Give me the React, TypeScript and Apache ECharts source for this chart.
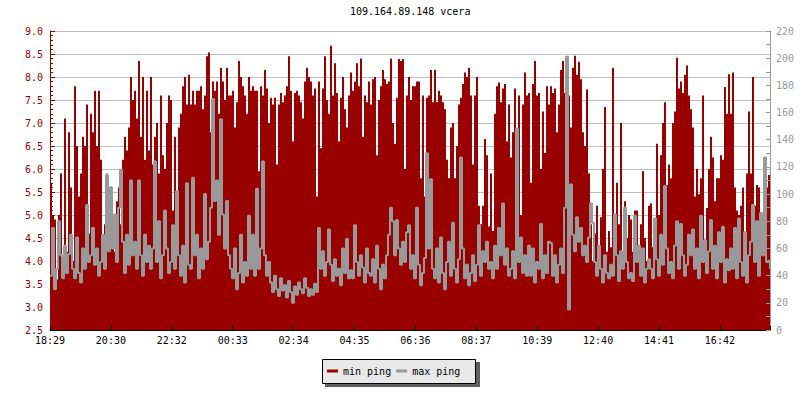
import { useEffect, useRef } from "react";
import * as echarts from "echarts";

const chartTitle = "109.164.89.148 vcera";
const xTickLabels = ["18:29", "20:30", "22:32", "00:33", "02:34", "04:35", "06:36", "08:37", "10:39", "12:40", "14:41", "16:42"];
// x axis is measured in sample slots (one sample every ~4 minutes)
const slotCount = 360;
const tickSlots = 30.45;
const seriesNames = ["min ping", "max ping"];

// min ping (ms, left axis)
const minPing = [
  5.7, 5.0, 4.9, 3.6, 5.0, 5.9, 3.8, 7.1, 4.2, 6.8,
  5.6, 4.0, 7.8, 6.5, 5.4, 5.9, 6.7, 6.5, 7.4, 4.6,
  7.2, 6.8, 7.7, 6.5, 7.7, 6.2, 4.3, 4.8, 5.9, 5.5,
  5.3, 4.6, 4.2, 5.3, 5.6, 4.8, 6.2, 6.7, 6.4, 6.9,
  8.0, 7.5, 7.7, 7.1, 8.35, 6.7, 8.0, 6.2, 7.7, 6.4,
  8.0, 6.1, 6.7, 7.0, 5.9, 7.6, 6.3, 6.0, 7.0, 7.6,
  7.5, 5.1, 6.7, 5.3, 6.9, 7.2, 7.8, 8.0, 7.4, 8.05,
  7.4, 7.7, 7.4, 7.7, 7.7, 7.8, 7.3, 7.6, 8.45, 8.53,
  6.8, 7.9, 7.7, 7.9, 7.2, 8.2, 7.9, 7.5, 8.2, 7.6,
  7.6, 7.7, 6.9, 7.45, 8.35, 8.0, 7.8, 7.6, 7.2, 8.0,
  7.7, 7.8, 7.7, 7.7, 5.95, 7.8, 7.6, 8.15, 7.75, 7.0,
  7.55, 7.4, 7.55, 6.1, 7.4, 7.65, 7.45, 7.6, 7.8, 8.45,
  7.7, 6.6, 7.65, 7.7, 7.6, 7.45, 7.1, 7.9, 8.2, 8.0,
  7.9, 7.6, 7.75, 5.4, 7.9, 6.45, 7.75, 8.45, 7.5, 7.2,
  8.68, 7.6, 8.3, 7.65, 6.6, 7.55, 8.0, 7.3, 6.9, 7.6,
  8.1, 7.7, 7.9, 8.3, 7.8, 8.4, 6.7, 7.6, 7.45, 7.9,
  7.4, 7.95, 8.0, 6.3, 7.5, 7.8, 8.15, 7.95, 7.85, 7.9,
  8.4, 7.0, 6.55, 7.55, 8.39, 8.35, 8.39, 6.0, 7.6, 8.0,
  7.5, 7.8, 7.8, 7.9, 7.9, 5.8, 7.6, 5.4, 7.55, 7.6,
  8.15, 7.45, 8.15, 7.45, 7.7, 7.6, 7.45, 7.3, 6.2, 5.8,
  6.9, 7.0, 5.8, 6.5, 7.4, 7.55, 7.85, 8.1, 8.0, 8.2,
  7.6, 6.1, 7.6, 8.0, 5.2, 4.8, 5.2, 6.65, 6.3, 4.75,
  5.9, 4.65, 7.2, 7.8, 7.88, 7.45, 7.75, 7.85, 6.6, 7.4,
  6.25, 6.8, 7.75, 4.9, 7.6, 5.0, 7.4, 8.1, 7.6, 7.65,
  5.7, 7.85, 8.35, 7.6, 7.65, 6.0, 7.25, 6.35, 7.8, 7.4,
  7.8, 7.65, 7.75, 6.8, 7.4, 8.15, 8.35, 7.65, 7.7, 7.6,
  6.9, 8.2, 8.46, 8.05, 8.33, 7.95, 6.8, 6.5, 7.73, 5.9,
  4.8, 4.0, 4.6, 5.2, 3.9, 4.95, 6.0, 7.35, 4.2, 4.65,
  4.3, 8.2, 4.6, 5.7, 4.8, 7.0, 4.0, 5.3, 4.5, 5.0,
  4.9, 4.2, 5.1, 5.1, 4.2, 4.8, 5.95, 4.5, 4.0, 5.2,
  5.25, 4.3, 4.7, 6.55, 5.0, 6.3, 7.0, 7.45, 5.65, 6.1,
  5.8, 7.0, 7.25, 8.42, 7.75, 7.9, 7.65, 8.05, 8.25, 7.6,
  7.3, 6.9, 5.4, 6.0, 5.45, 5.8, 7.6, 4.4, 5.15, 6.0,
  6.7, 6.25, 5.3, 5.8, 5.8, 6.3, 6.2, 7.78, 7.2, 8.06,
  7.2, 8.1, 5.6, 5.1, 5.0, 5.2, 5.6, 4.5, 5.9, 7.25,
  5.9, 8.0, 5.2, 5.65, 5.6, 4.8, 4.6, 5.1, 5.6, 5.87,
  5.3,
];

// max ping (ms, right axis)
const maxPing = [
  40, 75, 30, 45, 80, 55, 38, 62, 42, 56,
  70, 45, 38, 68, 42, 35, 60, 45, 92, 50,
  55, 75, 48, 60, 40, 50, 70, 45, 114, 58,
  105, 60, 85, 50, 90, 118, 65, 42, 70, 48,
  110, 55, 65, 45, 110, 55, 40, 70, 50, 62,
  45, 60, 124, 50, 80, 38, 55, 88, 60, 42,
  50, 77, 45, 102, 55, 40, 62, 35, 108, 48,
  45, 112, 55, 70, 38, 60, 45, 100, 52, 65,
  90, 170, 95, 110, 70, 155, 85, 60, 95, 55,
  45, 38, 60, 30, 42, 70, 35, 50, 40, 84,
  45, 70, 40, 104, 45, 60, 124, 55, 40, 50,
  35, 28, 40, 30, 25, 38, 29, 33, 24, 36,
  28, 20, 32, 26, 35, 30, 27, 38, 31, 25,
  30, 26, 34, 28, 75, 45, 58, 40, 50, 74,
  48, 36, 52, 40, 45, 33, 60, 42, 67, 38,
  44, 38, 77, 50, 40, 55, 46, 35, 60, 42,
  40, 52, 35, 62, 45, 30, 48, 38, 55, 70,
  90, 80, 55, 81, 60, 48, 65, 50, 72, 77,
  45, 55, 38, 90, 48, 33, 42, 53, 130, 60,
  111, 45, 38, 60, 35, 68, 42, 30, 50, 65,
  40, 79, 45, 35, 52, 127, 60, 38, 48, 33,
  42, 55, 36, 48, 77, 40, 58, 50, 65, 45,
  50, 38, 62, 45, 75, 55, 93, 48, 60, 40,
  45, 58, 38, 148, 50, 68, 42, 55, 40, 62,
  40, 60, 35, 50, 45, 78, 38, 55, 42, 65,
  64, 40, 55, 35, 48, 60, 42, 90, 201, 15,
  107, 70, 58, 83, 65, 75, 55, 62, 50, 68,
  93, 79, 50, 40, 62, 45, 35, 55, 42, 38,
  48, 40, 85, 55, 36, 58, 45, 90, 50, 38,
  42, 36, 84, 50, 62, 40, 60, 35, 45, 52,
  45, 38, 82, 52, 40, 70, 48, 106, 60, 42,
  50, 38, 62, 80, 45, 78, 55, 40, 48, 70,
  55, 74, 45, 60, 38, 84, 50, 66, 42, 58,
  81, 45, 62, 38, 72, 50, 76, 35, 52, 44,
  60, 45, 75, 38, 82, 50, 40, 72, 35, 55,
  65, 92, 50, 80, 40, 86, 55, 127, 50, 51,
  45,
];

const MONO = '"DejaVu Sans Mono", monospace';
const RED = "#990000";
const GRAY = "#999999";

export default function App() {
  const ref = useRef<HTMLDivElement>(null);

  useEffect(() => {
    if (!ref.current) return;
    const chart = echarts.init(ref.current, null, { renderer: "svg" });

    const xLabel = (v: number) => {
      const k = Math.round(v / tickSlots);
      if (Math.abs(v - k * tickSlots) < 0.2 && k < xTickLabels.length) return xTickLabels[k];
      return "";
    };

    const option: any = {
      animation: false,
      backgroundColor: "#ffffff",
      title: {
        text: chartTitle,
        left: 350,
        top: 6,
        padding: 0,
        textStyle: { fontFamily: MONO, fontSize: 10, fontWeight: "normal", color: "#000" },
      },
      grid: { left: 50, right: 30, top: 31, bottom: 70, containLabel: false, outerBoundsMode: "none" },
      xAxis: {
        type: "value",
        min: 0,
        max: slotCount,
        interval: tickSlots,
        z: 3,
        axisLine: { show: true, lineStyle: { color: "#000", width: 1 } },
        axisTick: { show: true, inside: true, length: 4, lineStyle: { color: "#000" } },
        axisLabel: { margin: 5, fontFamily: MONO, fontSize: 10, color: "#000", formatter: xLabel },
        splitLine: { show: false },
      },
      yAxis: [
        {
          type: "value",
          position: "left",
          min: 2.5,
          max: 9,
          interval: 0.5,
          axisLine: { show: true, lineStyle: { color: RED } },
          axisTick: { show: true, inside: true, length: 5, lineStyle: { color: RED } },
          minorTick: { show: true, splitNumber: 5, length: 3, lineStyle: { color: RED } },
          axisLabel: {
            margin: 7,
            color: RED,
            fontFamily: MONO,
            fontSize: 10,
            formatter: (v: number) => v.toFixed(1),
          },
          splitLine: { show: true, lineStyle: { color: "#c0c0c0", width: 1 } },
        },
        {
          type: "value",
          position: "right",
          min: 0,
          max: 220,
          interval: 20,
          z: 3,
          axisLine: { show: true, lineStyle: { color: GRAY } },
          axisTick: { show: true, inside: true, length: 4, lineStyle: { color: GRAY } },
          minorTick: { show: true, splitNumber: 2, length: 4, lineStyle: { color: GRAY } },
          axisLabel: { margin: 6, color: GRAY, fontFamily: MONO, fontSize: 10 },
          splitLine: { show: false },
        },
      ],
      legend: {
        data: seriesNames,
        left: 327,
        top: 365,
        padding: 0,
        itemGap: 5,
        itemWidth: 11,
        itemHeight: 3,
        icon: "rect",
        selectedMode: false,
        z: 10,
        textStyle: { fontFamily: MONO, fontSize: 10, color: "#000000", lineHeight: 12 },
      },
      graphic: [
        {
          type: "rect",
          z: 1,
          shape: { x: 325, y: 362, width: 155, height: 25 },
          style: { fill: "#5f5f5f" },
        },
        {
          type: "rect",
          z: 2,
          shape: { x: 322.5, y: 359.5, width: 153, height: 24 },
          style: { fill: "#e8e8e8", stroke: "#000", lineWidth: 1 },
        },
      ],
      series: [
        {
          name: seriesNames[0],
          type: "line",
          yAxisIndex: 0,
          step: "end",
          symbol: "none",
          showSymbol: false,
          z: 2,
          data: minPing.map((v, i) => [i, v]),
          lineStyle: { color: RED, width: 0 },
          itemStyle: { color: RED },
          areaStyle: { color: RED, opacity: 1, origin: "start" },
        },
        {
          name: seriesNames[1],
          type: "line",
          yAxisIndex: 1,
          step: "end",
          symbol: "none",
          showSymbol: false,
          z: 2,
          data: maxPing.map((v, i) => [i, v]),
          lineStyle: { color: GRAY, width: 2 },
          itemStyle: { color: GRAY },
        },
      ],
    };

    chart.setOption(option);
    return () => chart.dispose();
  }, []);

  return <div ref={ref} style={{ position: "fixed", left: 0, top: 0, width: 800, height: 400 }} />;
}
